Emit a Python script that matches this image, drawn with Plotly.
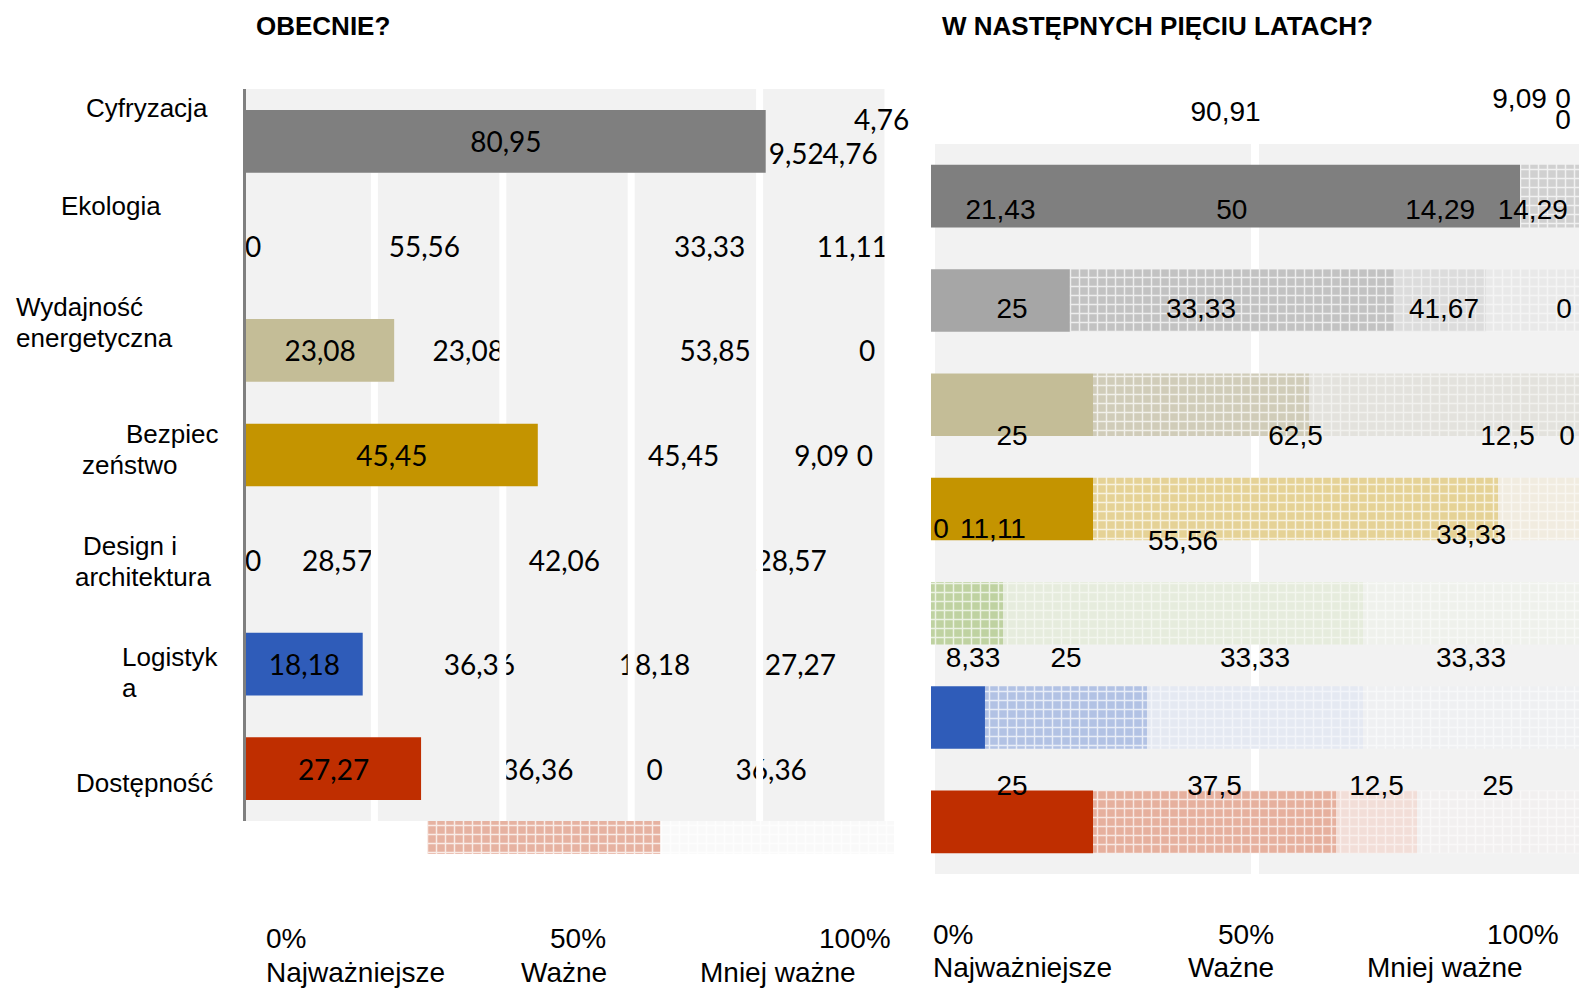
import plotly.graph_objects as go

W, H = 1579, 988

# ---------------- data ----------------
categories = ["Cyfryzacja", "Ekologia", "Wydajność energetyczna", "Bezpieczeństwo",
              "Design i architektura", "Logistyka", "Dostępność"]

now_najwazniejsze = [80.95, 0, 23.08, 45.45, 0, 18.18, 27.27]
now_wazne = [9.52, 55.56, 23.08, 45.45, 28.57, 36.36, 36.36]
now_mniej_wazne = [4.76, 33.33, 53.85, 9.09, 42.06, 18.18, 0]
now_niewazne = [4.76, 11.11, 0, 0, 28.57, 27.27, 36.36]

future_najwazniejsze = [90.91, 21.43, 25, 25, 0, 8.33, 25]
future_wazne = [9.09, 50, 33.33, 62.5, 11.11, 25, 37.5]
future_mniej_wazne = [0, 14.29, 41.67, 12.5, 55.56, 33.33, 12.5]
future_niewazne = [0, 14.29, 0, 0, 33.33, 33.33, 25]

tick_labels = ["0%", "50%", "100%"]
series_labels = ["Najważniejsze", "Ważne", "Mniej ważne"]
panel_titles = ["OBECNIE?", "W NASTĘPNYCH PIĘCIU LATACH?"]

# ---------------- styling ----------------
now_series = [now_najwazniejsze, now_wazne, now_mniej_wazne, now_niewazne]
future_series = [future_najwazniejsze, future_wazne, future_mniej_wazne, future_niewazne]
NROW = len(categories)
rows = list(range(NROW))

category_colors = ["#7f7f7f", "#a6a6a6", "#c4bd97", "#c49400", "#9bbb59", "#2f5cb9", "#bf2e00"]
future_colors = [
    ["#7f7f7f", "#d0d0d0", "#e2e2e2", "#ebebeb"],
    ["#a6a6a6", "#c2c2c2", "#dcdcdc", "#e9e9e9"],
    ["#c4bd97", "#d0ccb9", "#e3e2dd", "#eeeeec"],
    ["#c49400", "#e5d296", "#f1ece0", "#f2f2f2"],
    ["#9bbb59", "#bfd2a1", "#e6ecdd", "#eff1ec"],
    ["#2f5cb9", "#b2c2e4", "#e5e9f2", "#eff0f2"],
    ["#bf2e00", "#e6b09e", "#f2ded8", "#f2f0f0"],
]
strip_colors = [None, "#e6b2a1", "#f9f9f9", "#f9f9f9"]

ARIAL = "Liberation Sans, Arial, sans-serif"
LATO = "Lato, Carlito, Calibri, sans-serif"

OFF = 0  # body margin removed by post_script
Lx0, Lx1, Ly0, Ly1 = 246, 888, 89, 821
Rx0, Rx1, Ry0, Ry1 = 931, 1579, 144, 874
R_TOP = 84  # right subplot extends above the grey area to hold labels
Sx0, Sx1, Sy0, Sy1 = 252, 894, 821, 854


def pxx(x):
    return (x - OFF) / W


def pxy(y):
    return 1 - (y - OFF) / H


def fmt(v):
    s = f"{v:.2f}".rstrip("0").rstrip(".")
    return s.replace(".", ",")


def bases_of(series):
    run = [0.0] * NROW
    out = []
    for s in series:
        out.append(run[:])
        run = [r + v for r, v in zip(run, s)]
    return out


now_bases = bases_of(now_series)
future_bases = bases_of(future_series)

# label nudges in pixels (dx, dy)
left_dy_all = 4
left_nudge = {(0, 1): (0, 12), (0, 2): (8, 12), (0, 3): (9, -22), (1, 0): (7, 0),
              (2, 3): (-21, 0), (3, 2): (-37, 0), (3, 3): (-23, 0), (4, 0): (7, 0)}
left_over_extra = {(0, 3)}
right_row_dy = [-82, -88, -94, -71, -82, -58, -34]
right_nudge = {(0, 1): (-30, -13), (0, 2): (-16, -13), (0, 3): (-16, 8), (2, 3): (-15, 0),
               (3, 2): (-31, 0), (3, 3): (-12, 0), (4, 0): (10, 0), (4, 1): (26, 0),
               (4, 2): (0, 12), (4, 3): (0, 6), (5, 0): (15, 0)}

lx_unit = 100 / (Lx1 - Lx0)
ly_unit = NROW / (Ly1 - Ly0)
rx_unit = 100 / (Rx1 - Rx0)
ry_unit = NROW / (Ry1 - Ry0)

fig = go.Figure()

# ---- left panel: labels under the white stripes (base subplot) ----
under = dict(x=[], y=[], t=[])
over = dict(x=[], y=[], t=[])
for k, s in enumerate(now_series):
    for r in rows:
        v = s[r]
        dx, dy = left_nudge.get((r, k), (0, 0))
        cx = now_bases[k][r] + v / 2 + dx * lx_unit
        cy = r + (dy + left_dy_all) * ly_unit
        target = over if ((k == 0 and v > 0) or (r, k) in left_over_extra) else under
        target["x"].append(cx)
        target["y"].append(cy)
        target["t"].append(fmt(v))

fig.add_trace(go.Scatter(x=under["x"], y=under["y"], text=under["t"], mode="text",
                         textposition="middle center", cliponaxis=True,
                         textfont=dict(family=LATO, size=28, color="#000000"),
                         xaxis="x", yaxis="y", hoverinfo="skip"))

# white vertical stripes (gridlines) drawn above the labels
sx, sy = [], []
for g in [20, 40, 60]:
    sx += [g, g, None]
    sy += [0.3, NROW - 0.5, None]
for g in [80, 100]:
    sx += [g, g, None]
    sy += [-0.5, NROW - 0.5, None]
fig.add_trace(go.Scatter(x=sx, y=sy, mode="lines", line=dict(color="#ffffff", width=7),
                         xaxis="x", yaxis="y", hoverinfo="skip", cliponaxis=True))

# ---- left panel: bars (overlay subplot, above stripes) ----
fig.add_trace(go.Bar(y=rows, x=now_series[0], base=now_bases[0], orientation="h", width=0.6,
                     marker=dict(color=category_colors, line=dict(width=0)),
                     xaxis="x2", yaxis="y2", hoverinfo="skip"))
fig.add_trace(go.Scatter(x=over["x"], y=over["y"], text=over["t"], mode="text",
                         textposition="middle center", cliponaxis=False,
                         textfont=dict(family=LATO, size=28, color="#000000"),
                         xaxis="x2", yaxis="y2", hoverinfo="skip"))


def hatch_marker(color, fg_alpha):
    return dict(color=color, line=dict(width=0),
                pattern=dict(shape="+", fillmode="replace", bgcolor=color,
                             fgcolor="#ffffff", fgopacity=fg_alpha, size=9, solidity=0.3))


# ---- strip under left panel (Dostępność segments) ----
d = categories.index("Dostępność")
for k in range(1, 4):
    fig.add_trace(go.Bar(y=[0], x=[now_series[k][d]], base=[now_bases[k][d]], orientation="h",
                         width=1.0, marker=hatch_marker(strip_colors[k], 0.75),
                         xaxis="x4", yaxis="y4", hoverinfo="skip"))

# ---- right panel ----
fig.add_trace(go.Bar(y=rows, x=future_series[0], base=future_bases[0], orientation="h",
                     width=0.6, marker=dict(color=[future_colors[r][0] for r in rows],
                                            line=dict(width=0)),
                     xaxis="x3", yaxis="y3", hoverinfo="skip"))
for k in range(1, 4):
    for r in rows:
        fig.add_trace(go.Bar(y=[r], x=[future_series[k][r]], base=[future_bases[k][r]],
                             orientation="h", width=0.6,
                             marker=hatch_marker(future_colors[r][k], 0.7 if k == 1 else 0.5),
                             xaxis="x3", yaxis="y3", hoverinfo="skip"))

rt = dict(x=[], y=[], t=[])
for k, s in enumerate(future_series):
    for r in rows:
        v = s[r]
        dx, dy = right_nudge.get((r, k), (0, 0))
        rt["x"].append(future_bases[k][r] + v / 2 + dx * rx_unit)
        rt["y"].append(r + (right_row_dy[r] + dy) * ry_unit)
        rt["t"].append(fmt(v))
fig.add_trace(go.Scatter(x=rt["x"], y=rt["y"], text=rt["t"], mode="text",
                         textposition="middle center", cliponaxis=False,
                         textfont=dict(family=ARIAL, size=28, color="#000000"),
                         xaxis="x3", yaxis="y3", hoverinfo="skip"))

# ---------------- axes ----------------
hidden = dict(showticklabels=False, showgrid=False, zeroline=False, ticks="", fixedrange=True)
ydom_L = [pxy(Ly1), pxy(Ly0)]
ydom_R = [pxy(Ry1), pxy(R_TOP)]
r_top_val = -0.5 - (Ry0 - R_TOP) * ry_unit
fig.update_layout(
    xaxis=dict(domain=[pxx(Lx0), pxx(Lx1)], range=[0, 100], anchor="y", **hidden),
    yaxis=dict(domain=ydom_L, range=[NROW - 0.5, -0.5], anchor="x", showline=True,
               linecolor="#7f7f7f", linewidth=3, showticklabels=False, showgrid=False,
               zeroline=False, ticks=""),
    xaxis2=dict(overlaying="x", range=[0, 100], anchor="y2", **hidden),
    yaxis2=dict(overlaying="y", range=[NROW - 0.5, -0.5], anchor="x2", **hidden),
    xaxis3=dict(domain=[pxx(Rx0), min(1, pxx(Rx1))], range=[0, 100], anchor="y3",
                showticklabels=False, zeroline=False, ticks="", showgrid=False),
    yaxis3=dict(domain=ydom_R, range=[NROW - 0.5, r_top_val], anchor="x3", **hidden),
    xaxis4=dict(domain=[pxx(Sx0), pxx(Sx1)], range=[0, 100], anchor="y4", **hidden),
    yaxis4=dict(domain=[pxy(Sy1), pxy(Sy0)], range=[-0.5, 0.5], anchor="x4", **hidden),
)

# grey panel backgrounds and white gridline stripes of the right panel
fig.add_shape(type="rect", xref="paper", yref="paper", x0=pxx(244), x1=pxx(Lx1),
              y0=pxy(Ly1), y1=pxy(Ly0), fillcolor="#f2f2f2", line=dict(width=0), layer="below")
fig.add_shape(type="rect", xref="paper", yref="paper", x0=pxx(Rx0), x1=1,
              y0=pxy(Ry1), y1=pxy(Ry0), fillcolor="#f2f2f2", line=dict(width=0), layer="below")
for g in [0, 50]:
    fig.add_shape(type="line", xref="x3", yref="paper", x0=g, x1=g,
                  y0=pxy(Ry1), y1=pxy(Ry0), line=dict(color="#ffffff", width=8), layer="below")

# ---------------- annotations ----------------
ann = []
title_pos = [(254, 26), (940, 26)]
for t, (x, y) in zip(panel_titles, title_pos):
    ann.append(dict(text=t, x=pxx(x), y=pxy(y), xref="paper", yref="paper", xanchor="left",
                    yanchor="middle", showarrow=False,
                    font=dict(family=ARIAL, size=26, color="#000000", weight="bold")))

cat_breaks = [None, None, 10, 7, 9, 8, None]
cat_line_pos = [[(84, 108)], [(59, 206)], [(14, 307), (14, 338)], [(124, 434), (80, 465)],
                [(81, 546), (73, 577)], [(120, 657), (120, 688)], [(74, 783)]]
for cat, b, poss in zip(categories, cat_breaks, cat_line_pos):
    lines = [cat] if b is None else [cat[:b].strip(), cat[b:].strip()]
    for line, (x, y) in zip(lines, poss):
        ann.append(dict(text=line, x=pxx(x), y=pxy(y), xref="paper", yref="paper",
                        xanchor="left", yanchor="middle", showarrow=False,
                        font=dict(family=ARIAL, size=26, color="#000000")))

tick_pos = [[(264, "left", 938), (608, "right", 938), (893, "right", 938)],
            [(931, "left", 934), (1276, "right", 934), (1561, "right", 934)]]
series_pos = [[(264, 972), (519, 972), (698, 972)],
              [(931, 967), (1186, 967), (1365, 967)]]
for p in range(2):
    for t, (x, anc, y) in zip(tick_labels, tick_pos[p]):
        ann.append(dict(text=t, x=pxx(x), y=pxy(y), xref="paper", yref="paper", xanchor=anc,
                        yanchor="middle", showarrow=False,
                        font=dict(family=ARIAL, size=28, color="#000000")))
    for t, (x, y) in zip(series_labels, series_pos[p]):
        ann.append(dict(text=t, x=pxx(x), y=pxy(y), xref="paper", yref="paper", xanchor="left",
                        yanchor="middle", showarrow=False,
                        font=dict(family=ARIAL, size=28, color="#000000")))

fig.update_layout(
    annotations=ann,
    width=W, height=H,
    margin=dict(l=0, r=0, t=0, b=0),
    paper_bgcolor="#ffffff",
    plot_bgcolor="rgba(0,0,0,0)",
    barmode="overlay",
    showlegend=False,
)

fig.write_html(
    "out.html",
    config={"displayModeBar": False, "staticPlot": True},
    post_script="document.body.style.margin='0';document.body.style.overflow='hidden';",
)
